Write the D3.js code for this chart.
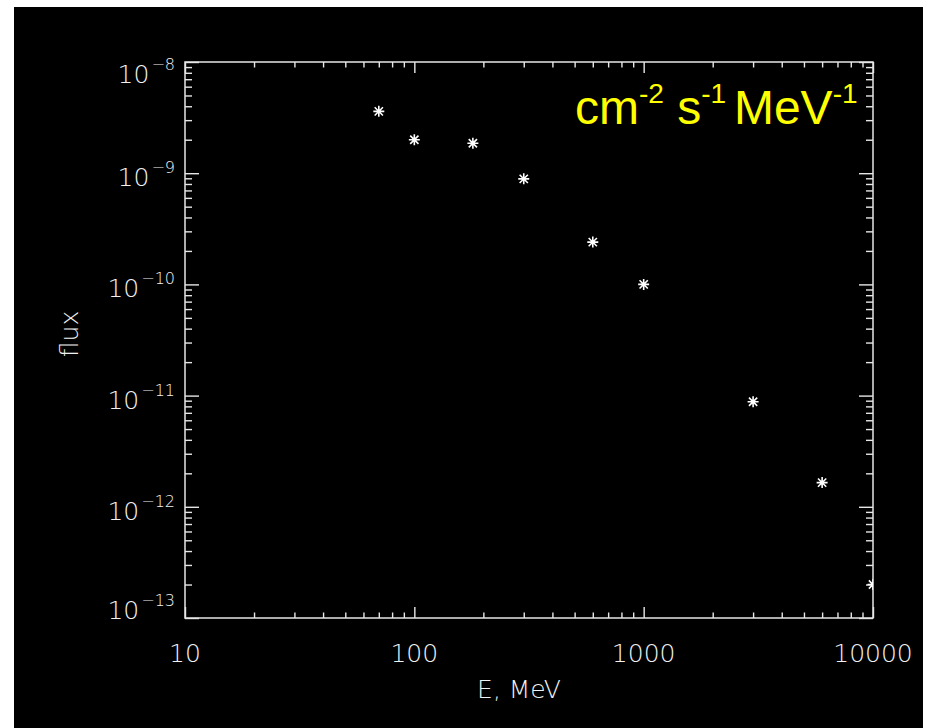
<!DOCTYPE html>
<html lang="en">
<head>
  <meta charset="UTF-8" />
  <title>Flux vs energy</title>
  <script src="https://d3js.org/d3.v7.min.js"></script>
  <style>
    body {
      margin: 0;
      background: #fff;
    }
    svg {
      display: block;
    }
    .tick-label, .axis-title {
      font-family: "DejaVu Sans", sans-serif;
      font-weight: 200;
      fill: #f2f2f2;
    }
    .units {
      font-family: "Liberation Sans", Arial, sans-serif;
      fill: #ffff00;
    }
  </style>
</head>
<body>
  <svg width="926" height="728"></svg>

  <script>
    // data
    const energy = [70, 100, 180, 300, 600, 1000, 3000, 6000, 10000];
    const flux = [3.6e-9, 2.0e-9, 1.86e-9, 8.9e-10, 2.4e-10, 1.0e-10, 8.8e-12, 1.65e-12, 2.0e-13];

    const xMajor = [10, 100, 1000, 10000];
    const xLabels = ["10", "100", "1000", "10000"];
    const yMajor = [1e-8, 1e-9, 1e-10, 1e-11, 1e-12, 1e-13];
    const yExponents = ["\u22128", "\u22129", "\u221210", "\u221211", "\u221212", "\u221213"];

    const svg = d3.select("svg");
    const axisColor = "#e6e6e6";

    // black plotting window
    svg.append("rect")
      .attr("x", 14).attr("y", 7)
      .attr("width", 909).attr("height", 721)
      .attr("fill", "#000");

    const plot = { left: 185, right: 873, top: 62, bottom: 618 };

    const x = d3.scaleLog().domain([10, 10000]).range([plot.left, plot.right]);
    const y = d3.scaleLog().domain([1e-13, 1e-8]).range([plot.bottom, plot.top]);

    // minor ticks 2..9 in every decade
    const minorOf = scale => {
      const [lo, hi] = scale.domain();
      const out = [];
      for (let p = Math.log10(lo); p < Math.log10(hi); p++) {
        for (let m = 2; m <= 9; m++) out.push(m * Math.pow(10, p));
      }
      return out;
    };
    const xMinor = minorOf(x);
    const yMinor = minorOf(y);

    function drawAxis(axisFn, scale, transform, major, minor, majorLen, minorLen) {
      [[major, majorLen], [minor, minorLen]].forEach(([vals, len]) => {
        const g = svg.append("g")
          .attr("transform", transform)
          .call(axisFn(scale).tickValues(vals).tickSize(-len).tickSizeOuter(0).tickFormat(""));
        g.select(".domain").remove();
        g.selectAll("line").attr("stroke", axisColor).attr("stroke-width", 1.4);
      });
    }

    drawAxis(d3.axisBottom, x, `translate(0,${plot.bottom})`, xMajor, xMinor, 11, 5.5);
    drawAxis(d3.axisTop, x, `translate(0,${plot.top})`, xMajor, xMinor, 11, 5.5);
    drawAxis(d3.axisLeft, y, `translate(${plot.left},0)`, yMajor, yMinor, 14, 7);
    drawAxis(d3.axisRight, y, `translate(${plot.right},0)`, yMajor, yMinor, 14, 7);

    // frame
    svg.append("rect")
      .attr("x", plot.left).attr("y", plot.top)
      .attr("width", plot.right - plot.left)
      .attr("height", plot.bottom - plot.top)
      .attr("fill", "none")
      .attr("stroke", axisColor)
      .attr("stroke-width", 1.5);

    // x tick labels
    svg.selectAll(".xlab")
      .data(xMajor)
      .enter()
      .append("text")
      .attr("class", "tick-label")
      .attr("x", d => x(d))
      .attr("y", plot.bottom + 44)
      .attr("text-anchor", "middle")
      .style("font-size", "25px")
      .text((d, i) => xLabels[i]);

    // y tick labels, 10 with superscript exponent
    const ylab = svg.selectAll(".ylab")
      .data(yMajor)
      .enter()
      .append("text")
      .attr("class", "tick-label")
      .attr("x", plot.left - 10)
      .attr("y", (d, i) => y(d) + (i === 0 ? 21 : i === yMajor.length - 1 ? 1 : 13))
      .attr("text-anchor", "end");
    ylab.append("tspan")
      .style("font-size", "25px")
      .text("10");
    ylab.append("tspan")
      .attr("dy", -13)
      .attr("dx", 2)
      .style("font-size", "16px")
      .text((d, i) => yExponents[i]);

    // axis titles
    svg.append("text")
      .attr("class", "axis-title")
      .attr("x", 519)
      .attr("y", 698)
      .attr("text-anchor", "middle")
      .style("font-size", "25px")
      .text("E, MeV");

    svg.append("text")
      .attr("class", "axis-title")
      .attr("transform", "translate(78,334) rotate(-90)")
      .attr("text-anchor", "middle")
      .style("font-size", "25px")
      .text("flux");

    // units in yellow
    const units = svg.append("text")
      .attr("class", "units")
      .attr("x", 575)
      .attr("y", 124)
      .style("font-size", "48px");
    units.append("tspan").text("cm");
    units.append("tspan").attr("dy", -21).style("font-size", "28px").text("-2");
    units.append("tspan").attr("dy", 21).text(" s");
    units.append("tspan").attr("dy", -21).style("font-size", "28px").text("-1 ");
    units.append("tspan").attr("dy", 21).text("MeV");
    units.append("tspan").attr("dy", -21).style("font-size", "28px").text("-1");

    // data points as 8-armed asterisks, clipped to the plot box
    svg.append("clipPath")
      .attr("id", "plot-clip")
      .append("rect")
      .attr("x", plot.left).attr("y", plot.top)
      .attr("width", plot.right - plot.left)
      .attr("height", plot.bottom - plot.top);

    const star = {
      draw(ctx, size) {
        const r = Math.sqrt(size) / 2;
        const d = r * 0.75;
        ctx.moveTo(-r, 0); ctx.lineTo(r, 0);
        ctx.moveTo(0, -r); ctx.lineTo(0, r);
        ctx.moveTo(-d, -d); ctx.lineTo(d, d);
        ctx.moveTo(-d, d); ctx.lineTo(d, -d);
      }
    };

    svg.append("g")
      .attr("clip-path", "url(#plot-clip)")
      .selectAll("path")
      .data(energy.map((e, i) => ({ e, f: flux[i] })))
      .enter()
      .append("path")
      .attr("transform", d => `translate(${x(d.e)},${y(d.f)})`)
      .attr("d", d3.symbol().type(star).size(121))
      .attr("fill", "none")
      .attr("stroke", "#fff")
      .attr("stroke-width", 1.6);
  </script>
</body>
</html>
